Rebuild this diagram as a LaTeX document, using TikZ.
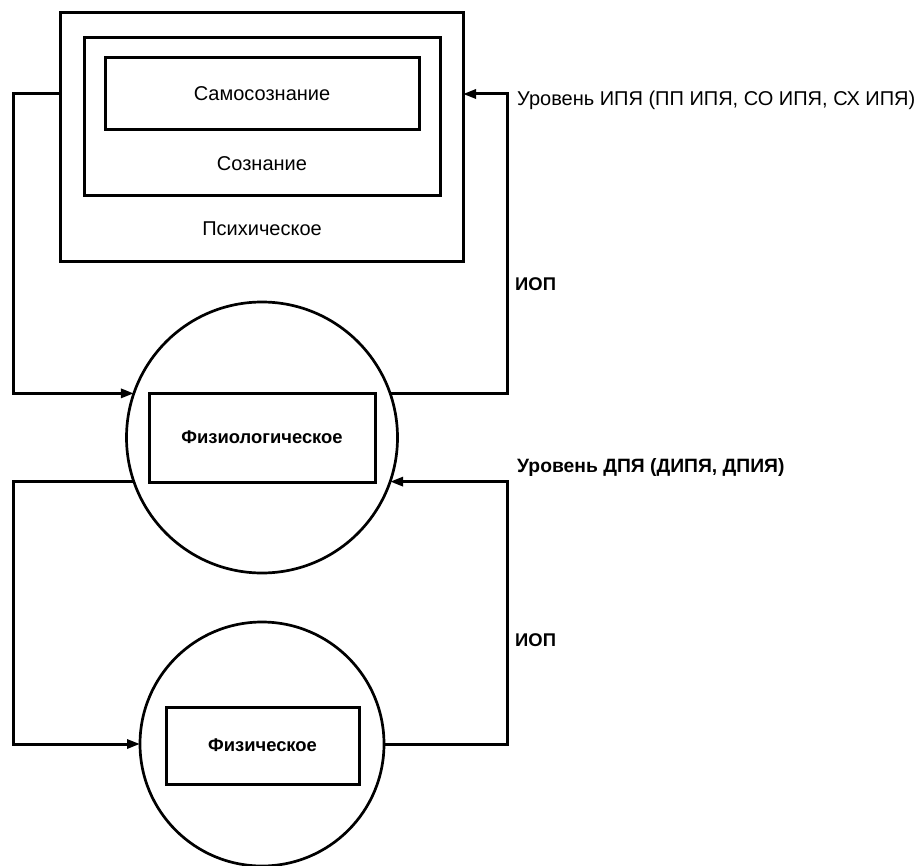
\documentclass[tikz,border=0pt]{standalone}
\usepackage{fontspec}
\setmainfont{Liberation Sans}
\usetikzlibrary{arrows.meta}

\tikzset{
  box/.style={draw, line width=3pt, inner sep=0pt, outer sep=0pt},
  ring/.style={draw, circle, line width=2.7pt, inner sep=0pt, outer sep=0pt},
  link/.style={line width=3pt},
  arr/.style={link, -{Triangle[length=13pt,width=9pt]}},
  txt/.style={inner sep=0pt, font=\fontsize{20}{24}\selectfont},
  btxt/.style={inner sep=0pt, font=\fontsize{18.4}{22}\selectfont\bfseries},
}

\begin{document}
\begin{tikzpicture}[x=1pt,y=-1pt]
    % Frame
    \useasboundingbox (0,0) rectangle (917,866);

    % Nested boxes
    \node[box, minimum width=403pt, minimum height=249pt] (psych) at (261.5,137.5) {};
    \node[box, minimum width=356pt, minimum height=158pt] (cons) at (262,117) {};
    \node[box, txt, minimum width=314pt, minimum height=72pt] (self) at (262,94) {Самосознание};
    \node[txt] (consl) at (262,164) {Сознание};
    \node[txt] (psychl) at (262,229) {Психическое};

    % Circles
    \node[ring, minimum size=271pt] (physioc) at (262,437.5) {};
    \node[box, btxt, minimum width=226pt, minimum height=89pt] (physio) at (262,437.5) {Физиологическое};
    \node[ring, minimum size=244pt] (physc) at (262,744) {};
    \node[box, btxt, minimum width=193pt, minimum height=77pt] (phys) at (262.5,745.5) {Физическое};

    % Columns of the feedback lines
    \coordinate (lcol) at (13,0);
    \coordinate (rcol) at (507,0);

    % Upper loop
    \draw[arr] (psych.west |- self) -- (lcol |- self) |- (physioc.161);
    \draw[arr] (physioc.19) -- (rcol |- physioc.19) |- (psych.east |- self);

    % Lower loop
    \draw[arr] (physioc.199) -- (lcol |- physioc.199) |- (physc.west);
    \draw[arr] (physc.east) -- (rcol |- physc.east) |- (physioc.341);

    % Labels
    \node[txt, anchor=west] (lvl1) at (517,100) {Уровень ИПЯ (ПП ИПЯ, СО ИПЯ, СХ ИПЯ)};
    \node[btxt, anchor=west] (iop1) at (515,284) {ИОП};
    \node[btxt, anchor=west, font=\fontsize{19.3}{23}\selectfont\bfseries] (lvl2) at (517,468) {Уровень ДПЯ (ДИПЯ, ДПИЯ)};
    \node[btxt, anchor=west] (iop2) at (515,640) {ИОП};
\end{tikzpicture}
\end{document}
